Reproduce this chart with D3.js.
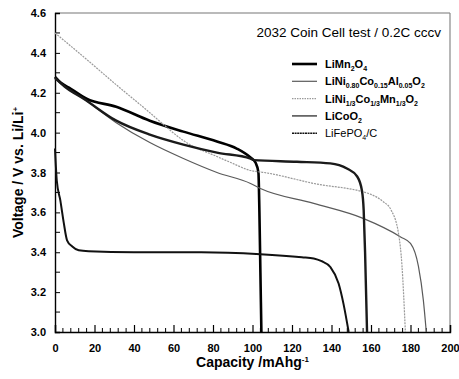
<!DOCTYPE html>
<html>
<head>
<meta charset="utf-8">
<script src="https://cdn.jsdelivr.net/npm/d3@7"></script>
<style>
  body { margin: 0; background: #fff; }
  text { font-family: "Liberation Sans", Arial, sans-serif; }
  .tick-label { font-size: 11px; font-weight: bold; }
  .axis-title { font-size: 14px; font-weight: bold; }
</style>
</head>
<body>
<div id="chart"></div>
<script>
// Data (capacity in mAh/g, voltage in V)
const lmoCap = [0, 3, 8, 16, 31, 48, 65, 82, 92, 99, 101.5, 103, 103.5, 104, 104.5]
const lmoV = [4.28, 4.25, 4.22, 4.17, 4.13, 4.06, 4.005, 3.955, 3.92, 3.875, 3.85, 3.8, 3.6, 3.3, 3.0]

const ncaCap = [0, 5, 14.5, 31, 48, 65, 82, 99, 104, 131, 156, 175, 180, 184, 186.5, 188]
const ncaV = [4.27, 4.23, 4.17, 4.05, 3.95, 3.87, 3.8, 3.745, 3.72, 3.645, 3.57, 3.477, 3.444, 3.33, 3.16, 3.0]

const ncmCap = [0, 14.5, 31, 48, 55, 65, 82, 89, 99, 106, 131, 160, 166, 170, 174, 175.7, 177.4]
const ncmV = [4.5, 4.38, 4.24, 4.1, 4.04, 3.96, 3.88, 3.85, 3.81, 3.8, 3.745, 3.69, 3.655, 3.615, 3.49, 3.33, 3.0]

const lcoCap = [0, 5, 14.5, 31, 48, 65, 82, 99, 100.6, 122.5, 139.4, 147.8, 153, 155.4, 156.3, 157, 158]
const lcoV = [4.275, 4.23, 4.17, 4.06, 3.99, 3.94, 3.9, 3.87, 3.862, 3.854, 3.846, 3.82, 3.78, 3.71, 3.61, 3.4, 3.0]

const lfpCap = [0, 0.9, 2.7, 4.4, 6.1, 8.6, 12, 17, 40, 74, 104, 125, 131, 135, 139.4, 143.6, 146.1, 148.7]
const lfpV = [3.92, 3.76, 3.66, 3.55, 3.46, 3.43, 3.41, 3.405, 3.4, 3.4, 3.39, 3.375, 3.369, 3.355, 3.326, 3.243, 3.14, 3.0]

const xTicks = [0, 20, 40, 60, 80, 100, 120, 140, 160, 180, 200]
const yTicks = [3.0, 3.2, 3.4, 3.6, 3.8, 4.0, 4.2, 4.4, 4.6]

const chartTitle = "2032 Coin Cell test / 0.2C cccv"

// legend labels: [text, isSubscript] pieces
const seriesList = [
  {cap: lmoCap, v: lmoV, color: "#000", width: 2.6, dash: null, legendDash: null, bold: true,
    label: [["LiMn", 0], ["2", 1], ["O", 0], ["4", 1]]},
  {cap: ncaCap, v: ncaV, color: "#5a5a5a", width: 1.2, dash: null, legendDash: null, bold: true,
    label: [["LiNi", 0], ["0.80", 1], ["Co", 0], ["0.15", 1], ["Al", 0], ["0.05", 1], ["O", 0], ["2", 1]]},
  {cap: ncmCap, v: ncmV, color: "#9a9a9a", width: 1.2, dash: "2,1", legendDash: "1.5,1", bold: true,
    label: [["LiNi", 0], ["1/3", 1], ["Co", 0], ["1/3", 1], ["Mn", 0], ["1/3", 1], ["O", 0], ["2", 1]]},
  {cap: lcoCap, v: lcoV, color: "#1a1a1a", width: 2.4, dash: null, legendDash: null, bold: true,
    legendColor: "#555", legendWidth: 1.6,
    label: [["LiCoO", 0], ["2", 1]]},
  {cap: lfpCap, v: lfpV, color: "#111", width: 2.0, dash: null, legendDash: "2,0.6", bold: false,
    legendWidth: 1.6,
    label: [["LiFePO", 0], ["4", 1], ["/C", 0]]}
]

// Dimensions
const width = 459
const height = 379
const margin = {left: 55, right: 9, top: 13, bottom: 47}
const plotRight = width - margin.right
const plotBottom = height - margin.bottom

const svg = d3.select("#chart")
  .append("svg")
    .attr("width", width)
    .attr("height", height)

const x = d3.scaleLinear().domain([0, 200]).range([margin.left, plotRight])
const y = d3.scaleLinear().domain([3.0, 4.6]).range([plotBottom, margin.top])

// frame: top and right are lighter in the scan
svg.append("line")
  .attr("x1", margin.left).attr("x2", plotRight)
  .attr("y1", margin.top).attr("y2", margin.top)
  .attr("stroke", "#777").attr("stroke-width", 1.2)
svg.append("line")
  .attr("x1", plotRight).attr("x2", plotRight)
  .attr("y1", margin.top).attr("y2", plotBottom)
  .attr("stroke", "#888").attr("stroke-width", 1.2)

// x axis, ticks pointing inwards
const xAxis = d3.axisBottom(x).tickValues(xTicks).tickSize(-7).tickPadding(12)
  .tickFormat(d3.format("d"))
const gx = svg.append("g")
  .attr("transform", "translate(0," + plotBottom + ")")
  .call(xAxis)
gx.select(".domain").attr("stroke-width", 1.4)
gx.selectAll(".tick line").attr("stroke-width", 1.2)
gx.selectAll(".tick text").attr("class", "tick-label").attr("fill", "#000")

const xMinor = d3.range(0, 201, 4).filter(function(d) { return d % 20 !== 0 })
gx.selectAll(".minor")
  .data(xMinor)
  .enter().append("line")
  .attr("x1", function(d) { return x(d) })
  .attr("x2", function(d) { return x(d) })
  .attr("y1", 0).attr("y2", -4)
  .attr("stroke", "#000").attr("stroke-width", 1)

// y axis
const yAxis = d3.axisLeft(y).tickValues(yTicks).tickSize(-5).tickPadding(9)
  .tickFormat(d3.format(".1f"))
const gy = svg.append("g")
  .attr("transform", "translate(" + margin.left + ",0)")
  .call(yAxis)
gy.select(".domain").attr("stroke-width", 1.4)
gy.selectAll(".tick text").attr("class", "tick-label").attr("fill", "#000")

const yMinor = d3.range(3.1, 4.6, 0.2)
gy.selectAll(".minor")
  .data(yMinor)
  .enter().append("line")
  .attr("x1", 0).attr("x2", 5)
  .attr("y1", function(d) { return y(d) })
  .attr("y2", function(d) { return y(d) })
  .attr("stroke", "#000").attr("stroke-width", 1)

// axis titles
const xTitle = svg.append("text")
  .attr("class", "axis-title")
  .attr("x", (margin.left + plotRight) / 2)
  .attr("y", 367)
  .attr("text-anchor", "middle")
xTitle.append("tspan").text("Capacity /mAhg")
xTitle.append("tspan").attr("dy", -5).style("font-size", "8px").text("-1")

const yTitle = svg.append("text")
  .attr("class", "axis-title")
  .attr("transform", "translate(23," + ((margin.top + plotBottom) / 2) + ") rotate(-90)")
  .attr("text-anchor", "middle")
yTitle.append("tspan").text("Voltage / V vs. Li/Li")
yTitle.append("tspan").attr("dy", -5).style("font-size", "8px").text("+")

// curves
const line = d3.line()
  .x(function(d) { return x(d[0]) })
  .y(function(d) { return y(d[1]) })
  .curve(d3.curveMonotoneX)

const plotArea = svg.append("g")
seriesList.forEach(function(s) {
  const pts = s.cap.map(function(c, i) { return [c, s.v[i]] })
  plotArea.append("path")
    .datum(pts)
    .attr("fill", "none")
    .attr("stroke", s.color)
    .attr("stroke-width", s.width)
    .attr("stroke-dasharray", s.dash)
    .attr("stroke-linejoin", "round")
    .attr("d", line)
})

// title
svg.append("text")
  .attr("x", 441)
  .attr("y", 37)
  .attr("text-anchor", "end")
  .style("font-size", "13.5px")
  .text(chartTitle)

// legend
const legendX = 292
const legendY = 64
const legendStep = 17.3
const legend = svg.append("g")
seriesList.forEach(function(s, i) {
  const yy = legendY + i * legendStep
  legend.append("line")
    .attr("x1", legendX).attr("x2", legendX + 25)
    .attr("y1", yy).attr("y2", yy)
    .attr("stroke", s.legendColor || s.color)
    .attr("stroke-width", s.legendWidth || s.width)
    .attr("stroke-dasharray", s.legendDash)
  const t = legend.append("text")
    .attr("x", legendX + 33)
    .attr("y", yy + 4)
    .style("font-size", "11px")
    .style("font-weight", s.bold ? "bold" : "normal")
  let sub = false
  s.label.forEach(function(p) {
    const ts = t.append("tspan").text(p[0])
    if (p[1] && !sub) { ts.attr("dy", 3).style("font-size", "7px"); sub = true }
    else if (p[1]) { ts.style("font-size", "7px") }
    else if (!p[1] && sub) { ts.attr("dy", -3); sub = false }
  })
})
</script>
</body>
</html>
